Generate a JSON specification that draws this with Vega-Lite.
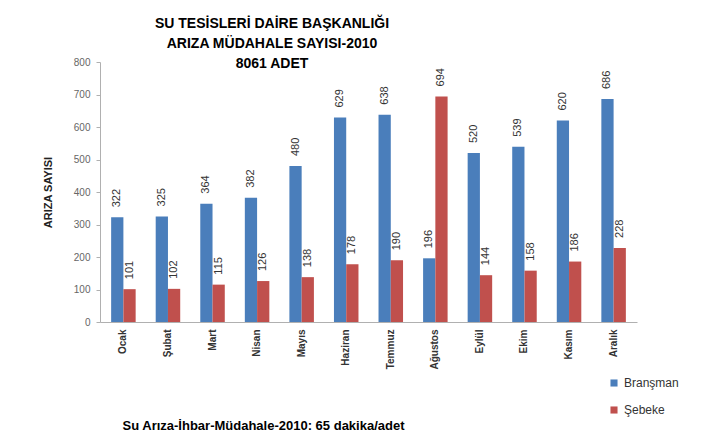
{
  "$schema": "https://vega.github.io/schema/vega-lite/v6.json",
  "width": 537,
  "height": 260,
  "autosize": "none",
  "padding": {"left": 100, "top": 62, "right": 76, "bottom": 119},
  "background": "white",
  "config": {"font": "Liberation Sans", "view": {"stroke": null}},
  "title": {
    "text": ["SU  TESİSLERİ DAİRE BAŞKANLIĞI", "ARIZA MÜDAHALE SAYISI-2010", "8061 ADET"],
    "anchor": "start",
    "frame": "group",
    "align": "center",
    "dx": 172,
    "offset": -14,
    "fontSize": 14,
    "fontWeight": "bold",
    "lineHeight": 20,
    "color": "black"
  },
  "data": {
    "values": [
      {"ay": "Ocak", "tur": "Branşman", "sayi": 322},
      {"ay": "Ocak", "tur": "Şebeke", "sayi": 101},
      {"ay": "Şubat", "tur": "Branşman", "sayi": 325},
      {"ay": "Şubat", "tur": "Şebeke", "sayi": 102},
      {"ay": "Mart", "tur": "Branşman", "sayi": 364},
      {"ay": "Mart", "tur": "Şebeke", "sayi": 115},
      {"ay": "Nisan", "tur": "Branşman", "sayi": 382},
      {"ay": "Nisan", "tur": "Şebeke", "sayi": 126},
      {"ay": "Mayıs", "tur": "Branşman", "sayi": 480},
      {"ay": "Mayıs", "tur": "Şebeke", "sayi": 138},
      {"ay": "Haziran", "tur": "Branşman", "sayi": 629},
      {"ay": "Haziran", "tur": "Şebeke", "sayi": 178},
      {"ay": "Temmuz", "tur": "Branşman", "sayi": 638},
      {"ay": "Temmuz", "tur": "Şebeke", "sayi": 190},
      {"ay": "Ağustos", "tur": "Branşman", "sayi": 196},
      {"ay": "Ağustos", "tur": "Şebeke", "sayi": 694},
      {"ay": "Eylül", "tur": "Branşman", "sayi": 520},
      {"ay": "Eylül", "tur": "Şebeke", "sayi": 144},
      {"ay": "Ekim", "tur": "Branşman", "sayi": 539},
      {"ay": "Ekim", "tur": "Şebeke", "sayi": 158},
      {"ay": "Kasım", "tur": "Branşman", "sayi": 620},
      {"ay": "Kasım", "tur": "Şebeke", "sayi": 186},
      {"ay": "Aralık", "tur": "Branşman", "sayi": 686},
      {"ay": "Aralık", "tur": "Şebeke", "sayi": 228}
    ]
  },
  "encoding": {
    "x": {
      "field": "ay",
      "type": "nominal",
      "sort": null,
      "scale": {"paddingInner": 0.45, "paddingOuter": 0.25},
      "axis": {
        "title": "Su  Arıza-İhbar-Müdahale-2010: 65 dakika/adet",
        "titleFontSize": 13,
        "titleFontWeight": "bold",
        "titleColor": "black",
        "titleAnchor": "start",
        "titleAlign": "center",
        "titleX": 163,
        "titleY": 97,
        "labelAngle": -90,
        "labelAlign": "right",
        "labelBaseline": "middle",
        "labelFontSize": 10,
        "labelFontWeight": "bold",
        "labelColor": "#333333",
        "labelPadding": 7,
        "ticks": false,
        "domainColor": "#b0b0b0"
      }
    },
    "xOffset": {"field": "tur", "type": "nominal", "sort": ["Branşman", "Şebeke"]},
    "y": {
      "field": "sayi",
      "type": "quantitative",
      "scale": {"domain": [0, 800]},
      "axis": {
        "title": "ARIZA SAYISI",
        "titleFontSize": 11,
        "titleFontWeight": "bold",
        "titleColor": "#222222",
        "titlePadding": 20,
        "values": [0, 100, 200, 300, 400, 500, 600, 700, 800],
        "labelOverlap": false,
        "grid": false,
        "labelFontSize": 10,
        "labelColor": "#666666",
        "labelPadding": 6,
        "tickColor": "#b0b0b0",
        "tickSize": 4,
        "domainColor": "#b0b0b0"
      }
    }
  },
  "layer": [
    {
      "mark": {"type": "bar"},
      "encoding": {
        "color": {
          "field": "tur",
          "type": "nominal",
          "sort": ["Branşman", "Şebeke"],
          "scale": {"domain": ["Branşman", "Şebeke"], "range": ["#4a7ebb", "#c0504d"]},
          "legend": {
            "title": null,
            "orient": "none",
            "legendX": 508,
            "legendY": 315,
            "symbolType": "square",
            "symbolSize": 50,
            "symbolStrokeWidth": 0,
            "labelFontSize": 12,
            "labelColor": "#333333",
            "rowPadding": 15
          }
        }
      }
    },
    {
      "mark": {"type": "text", "angle": 270, "align": "left", "baseline": "middle", "dx": 10, "fontSize": 11, "color": "#333333"},
      "encoding": {"text": {"field": "sayi", "type": "quantitative"}}
    }
  ]
}
